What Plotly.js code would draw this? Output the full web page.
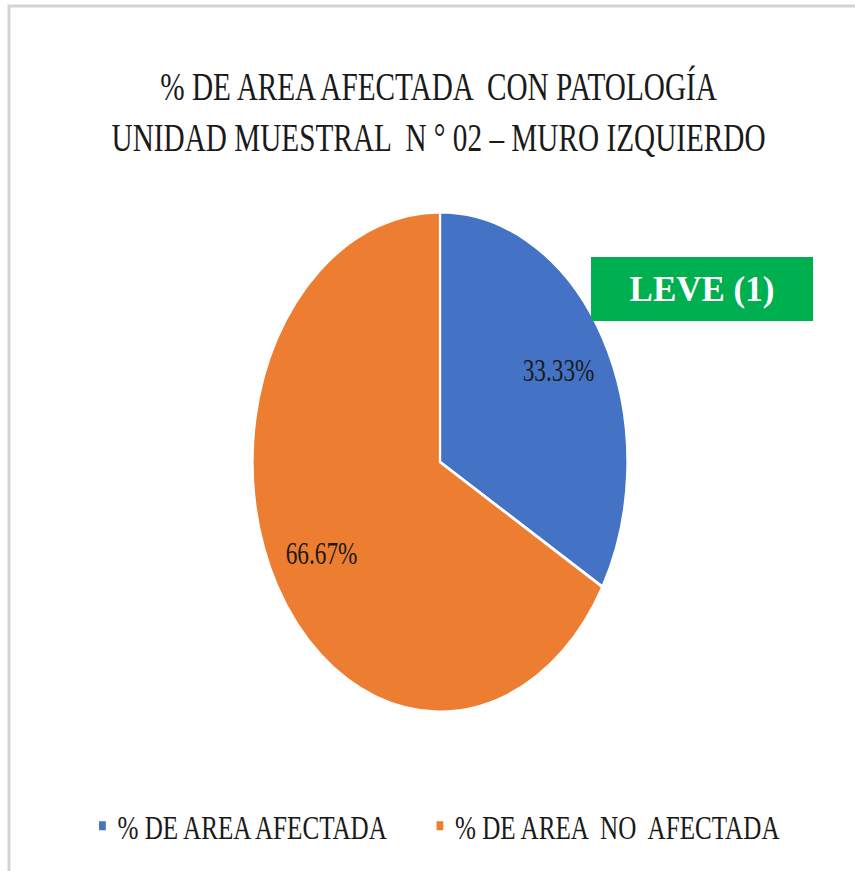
<!DOCTYPE html>
<html>
<head>
<meta charset="utf-8">
<script src="https://cdn.plot.ly/plotly-3.0.1.min.js"></script>
<style>
  body { margin: 0; overflow: hidden; background: #fff; }
  #chart { position: absolute; left: 0; top: 0; width: 1140px; height: 871px;
           transform: scaleX(0.75); transform-origin: 0 0; }
  #overlay { position: absolute; left: 0; top: 0; width: 855px; height: 871px; pointer-events: none; }
  /* fixed entrywidth would cut the last legend label */
  #chart .legend .scrollbox { clip-path: none !important; }
</style>
</head>
<body>
<div id="chart"></div>
<div id="overlay"></div>
<script>
// chart data
let labels = ['% DE AREA AFECTADA', '% DE AREA  NO  AFECTADA']
let values = [33.33, 66.67]
let colors = ['#4472C4', '#ED7D31']
let title_lines = ['% DE AREA AFECTADA  CON PATOLOGÍA', 'UNIDAD MUESTRAL  N ° 02 – MURO IZQUIERDO']
let badge_text = 'LEVE (1)'

let serif = '"Liberation Serif", "Times New Roman", serif'

// the original chart is squeezed sideways, so the pie is drawn wide and scaled by css
let W = 1140, H = 871
let pie_x = [0.2953, 0.7339], pie_y = [0.1826, 0.7566]

let trace = {
  type: 'pie',
  labels: labels,
  values: values,
  sort: false,
  direction: 'clockwise',
  rotation: 0,
  marker: { colors: colors, line: { color: '#ffffff', width: 3 } },
  textinfo: 'none',
  domain: { x: pie_x, y: pie_y }
}

// data labels like excel: at mid angle of each slice, ~0.73 of the radius
let cx = (pie_x[0] + pie_x[1]) / 2 * W
let cy = (1 - (pie_y[0] + pie_y[1]) / 2) * H
let rad = (pie_y[1] - pie_y[0]) / 2 * H
let total = values.reduce((a, b) => a + b, 0)
let label_notes = []
let acc = 0
for (let i = 0; i < values.length; i++) {
  let mid = (acc + values[i] / 2) / total * 2 * Math.PI
  acc += values[i]
  let px = cx + Math.sin(mid) * rad * 0.73
  let py = cy - Math.cos(mid) * rad * 0.73
  label_notes.push({
    text: (values[i] / total * 100).toFixed(2) + '%',
    xref: 'paper', yref: 'paper',
    x: px / W, y: 1 - py / H,
    xanchor: 'center', yanchor: 'middle',
    showarrow: false,
    font: { family: serif, size: 31, color: '#1a1a1a' }
  })
}

let layout = {
  width: W,
  height: H,
  margin: { l: 0, r: 0, t: 0, b: 0 },
  paper_bgcolor: '#ffffff',
  title: {
    text: title_lines.join('<br>'),
    font: { family: serif, size: 39, color: '#1a1a1a' },
    x: 0.513, xanchor: 'center',
    y: 0.885, yanchor: 'top', yref: 'container'
  },
  showlegend: true,
  legend: {
    orientation: 'h',
    x: 0.497, xanchor: 'center',
    y: 0.0517, yanchor: 'middle',
    entrywidth: 405,
    itemwidth: 30,
    font: { family: serif, size: 33.5, color: '#1a1a1a' }
  },
  annotations: label_notes
}

Plotly.newPlot('chart', [trace], layout, { staticPlot: true, displayModeBar: false })

// badge and frame are not squeezed
let overlay_layout = {
  width: 855,
  height: 871,
  margin: { l: 0, r: 0, t: 0, b: 0 },
  paper_bgcolor: 'rgba(0,0,0,0)',
  plot_bgcolor: 'rgba(0,0,0,0)',
  xaxis: { visible: false }, yaxis: { visible: false },
  shapes: [{
    type: 'rect', xref: 'paper', yref: 'paper',
    x0: 9 / 855, x1: 1.2, y0: -0.2, y1: 1 - 6 / 871,
    line: { color: '#d4d4d4', width: 3 }
  }],
  annotations: [{
    text: '<b>' + badge_text + '</b>',
    xref: 'paper', yref: 'paper',
    x: 702 / 855, y: 1 - 289 / 871,
    xanchor: 'center', yanchor: 'middle',
    showarrow: false,
    width: 222, height: 64,
    bgcolor: '#00B050', borderpad: 0, borderwidth: 0,
    font: { family: serif, size: 35, color: '#ffffff' }
  }]
}

Plotly.newPlot('overlay', [], overlay_layout, { staticPlot: true, displayModeBar: false })
</script>
</body>
</html>
